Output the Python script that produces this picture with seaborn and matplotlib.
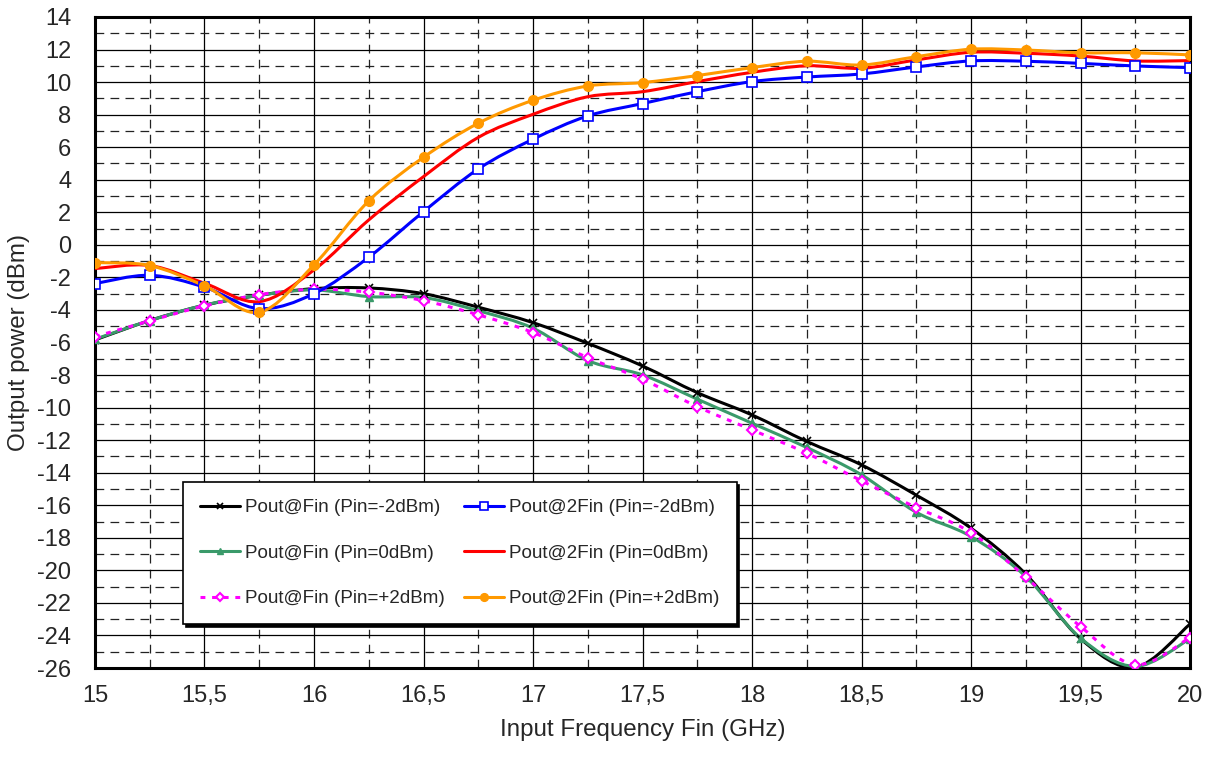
import numpy as np
import pandas as pd
import matplotlib
matplotlib.use("Agg")
import matplotlib.pyplot as plt
from matplotlib.path import Path
from matplotlib.patches import PathPatch
from matplotlib.lines import Line2D
from matplotlib.ticker import MultipleLocator, FuncFormatter
import seaborn as sns

# Data (GHz / dBm)
freq = [15, 15.25, 15.5, 15.75, 16, 16.25, 16.5, 16.75, 17, 17.25, 17.5,
        17.75, 18, 18.25, 18.5, 18.75, 19, 19.25, 19.5, 19.75, 20]

fin_m2 = [-5.84, -4.65, -3.71, -3.10, -2.69, -2.65, -3.00, -3.83, -4.78, -6.05, -7.44,
          -9.08, -10.45, -12.08, -13.52, -15.38, -17.41, -20.23, -24.20, -25.95, -23.30]
fin_0 = [-5.80, -4.65, -3.70, -3.10, -2.77, -3.18, -3.24, -4.05, -5.12, -7.11, -7.99,
         -9.48, -10.96, -12.45, -14.13, -16.43, -17.92, -20.38, -24.16, -25.90, -24.20]
fin_p2 = [-5.64, -4.67, -3.75, -3.06, -2.73, -2.91, -3.43, -4.30, -5.39, -6.93, -8.26,
          -9.94, -11.37, -12.80, -14.50, -16.14, -17.68, -20.42, -23.45, -25.80, -24.13]
fin2_m2 = [-2.38, -1.87, -2.60, -3.92, -3.00, -0.76, 2.04, 4.66, 6.49, 7.92, 8.68,
           9.41, 10.03, 10.31, 10.50, 10.93, 11.30, 11.28, 11.15, 10.99, 10.89]
fin2_0 = [-1.46, -1.27, -2.36, -3.49, -1.54, 1.53, 4.19, 6.60, 8.02, 9.10, 9.41,
          10.03, 10.60, 11.00, 10.85, 11.36, 11.83, 11.77, 11.60, 11.30, 11.32]
fin2_p2 = [-1.09, -1.27, -2.52, -4.14, -1.23, 2.70, 5.38, 7.47, 8.88, 9.76, 9.97,
           10.40, 10.89, 11.28, 11.05, 11.56, 12.02, 11.97, 11.80, 11.80, 11.67]

labels = ["Pout@Fin (Pin=-2dBm)", "Pout@Fin (Pin=0dBm)", "Pout@Fin (Pin=+2dBm)",
          "Pout@2Fin (Pin=-2dBm)", "Pout@2Fin (Pin=0dBm)", "Pout@2Fin (Pin=+2dBm)"]
series = [fin_m2, fin_0, fin_p2, fin2_m2, fin2_0, fin2_p2]

styles = [
    dict(color="black", marker="x", ms=6, mfc="black", mew=1.2, ls="-"),
    dict(color="#3a9a6a", marker="^", ms=6, mfc="#3a9a6a", mew=1, ls="-"),
    dict(color="#ff00ff", marker="D", ms=5.5, mfc="white", mew=1.5, ls=(0, (1.6, 2.2))),
    dict(color="#0000ff", marker="s", ms=7, mfc="white", mew=1.2, ls="-"),
    dict(color="#ff0000", marker=None, ms=0, mfc="none", mew=0, ls="-"),
    dict(color="#ff9900", marker="o", ms=7, mfc="#ff9900", mew=1, ls="-"),
]

df = pd.DataFrame({"freq": freq})
for lab, vals in zip(labels, series):
    df[lab] = vals

sns.set_style("white")
plt.rcParams["font.family"] = ["Liberation Sans", "DejaVu Sans"]
plt.rcParams["axes.unicode_minus"] = False

fig = plt.figure(figsize=(12.1, 7.58), dpi=100)
ax = fig.add_axes([0.0785, 0.1187, 0.905, 0.8589])


def smooth_path(x, y):
    # Excel-style smoothed line: cubic Bezier through each point
    pts = np.column_stack([x, y])
    n = len(pts)
    verts = [pts[0]]
    codes = [Path.MOVETO]
    for i in range(n - 1):
        p0 = pts[max(i - 1, 0)]
        p1 = pts[i]
        p2 = pts[i + 1]
        p3 = pts[min(i + 2, n - 1)]
        verts += [p1 + (p2 - p0) / 6, p2 - (p3 - p1) / 6, p2]
        codes += [Path.CURVE4] * 3
    return Path(verts, codes)


handles = []
for lab, st in zip(labels, styles):
    ax.add_patch(PathPatch(smooth_path(df["freq"], df[lab]), fill=False,
                           edgecolor=st["color"], lw=2.2, linestyle=st["ls"], zorder=3))
    if st["marker"]:
        sns.lineplot(data=df, x="freq", y=lab, ax=ax, linestyle="none",
                     marker=st["marker"], markersize=st["ms"], color=st["color"],
                     markerfacecolor=st["mfc"], markeredgecolor=st["color"],
                     markeredgewidth=st["mew"], zorder=4)
    handles.append(Line2D([], [], color=st["color"], lw=2.2, linestyle=st["ls"],
                          marker=st["marker"], markersize=st["ms"] * 0.8,
                          markerfacecolor=st["mfc"], markeredgecolor=st["color"],
                          markeredgewidth=st["mew"]))

ax.set_xlim(15, 20)
ax.set_ylim(-26, 14)
ax.xaxis.set_major_locator(MultipleLocator(0.5))
ax.xaxis.set_minor_locator(MultipleLocator(0.25))
ax.yaxis.set_major_locator(MultipleLocator(2))
ax.yaxis.set_minor_locator(MultipleLocator(1))
ax.xaxis.set_major_formatter(FuncFormatter(lambda v, p: f"{v:g}".replace(".", ",")))
ax.yaxis.set_major_formatter(FuncFormatter(lambda v, p: f"{v:g}"))

ax.grid(which="major", color="black", lw=0.9, ls="-", zorder=0)
ax.grid(which="minor", color="#222222", lw=0.9, ls=(0, (7, 5)), zorder=0)
ax.set_axisbelow(True)
ax.tick_params(which="both", length=0, labelsize=17)
ax.tick_params(axis="x", pad=12)
ax.tick_params(axis="y", pad=17)
for sp in ax.spines.values():
    sp.set_visible(True)
    sp.set_color("black")
    sp.set_linewidth(2.2)

ax.set_xlabel("Input Frequency Fin (GHz)", fontsize=17.4, labelpad=9)
ax.set_ylabel("Output power (dBm)", fontsize=17.4, labelpad=5)

leg = ax.legend(handles, labels, ncol=2, loc="upper left",
                bbox_to_anchor=(0.0804, 0.2857), borderaxespad=0, fontsize=13.6,
                frameon=True, fancybox=False, edgecolor="black", framealpha=1,
                labelspacing=1.5, handlelength=2.1, handletextpad=0.3,
                columnspacing=1.0, borderpad=0.9,
                shadow={"color": "black", "alpha": 1})
leg.get_frame().set_linewidth(1.2)
leg.set_zorder(10)

fig.savefig("out.png", dpi=100)
